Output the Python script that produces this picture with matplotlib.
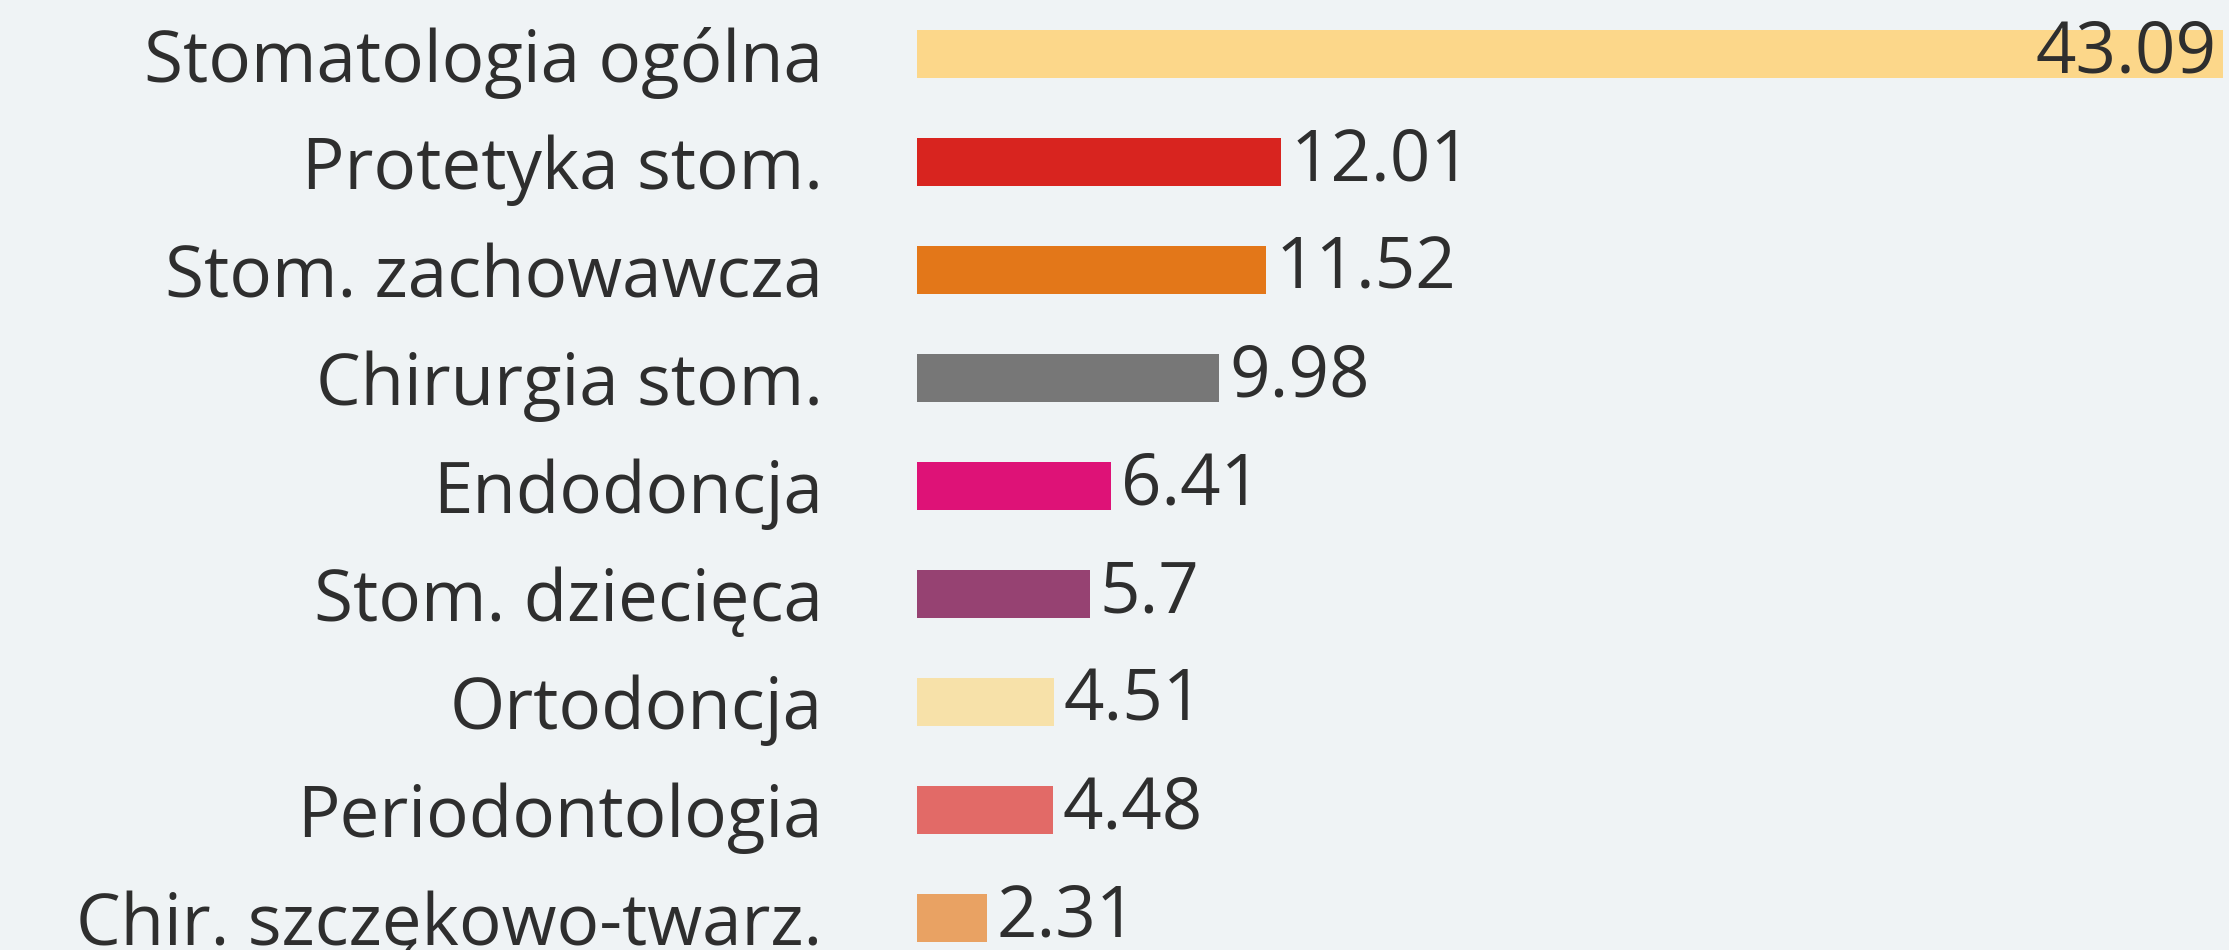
import matplotlib
matplotlib.use("Agg")
import matplotlib.pyplot as plt
import numpy as np

categories = ["Stomatologia ogólna", "Protetyka stom.", "Stom. zachowawcza",
              "Chirurgia stom.", "Endodoncja", "Stom. dziecięca",
              "Ortodoncja", "Periodontologia", "Chir. szczękowo-twarz."]
values = [43.09, 12.01, 11.52, 9.98, 6.41, 5.7, 4.51, 4.48, 2.31]
colors = ["#FCD78A", "#D8241F", "#E37719", "#777777", "#DE1277",
          "#964272", "#F7E1A9", "#E26A67", "#E9A263"]

bg = "#EFF3F5"
txt = "#2E2E2E"
xmax = 43.3

fig = plt.figure(figsize=(22.29, 9.5), dpi=100, facecolor=bg)
ax = fig.add_axes([917 / 2229, 0, 1 - 917 / 2229, 1])
ax.set_facecolor(bg)

y = np.arange(len(values))
ax.barh(y, values, height=0.445, color=colors, zorder=2)

ax.set_xlim(0, xmax)
ax.set_ylim(8.296, -0.5)

for i, v in enumerate(values):
    if i == 0:
        ax.annotate(f"{v:g}", (xmax, i), xytext=(-12, 0), textcoords="offset pixels",
                    ha="right", va="center", fontsize=51, color=txt, family="Open Sans")
    else:
        ax.annotate(f"{v:g}", (v, i), xytext=(10, 0), textcoords="offset pixels",
                    ha="left", va="center", fontsize=51, color=txt, family="Open Sans")

ax.set_yticks(y)
ax.set_yticklabels(categories, fontsize=51, color=txt, family="Open Sans")
ax.tick_params(axis="y", length=0, pad=68)
ax.set_xticks([])
for s in ax.spines.values():
    s.set_visible(False)

fig.savefig("out.png", dpi=100, facecolor=bg)
